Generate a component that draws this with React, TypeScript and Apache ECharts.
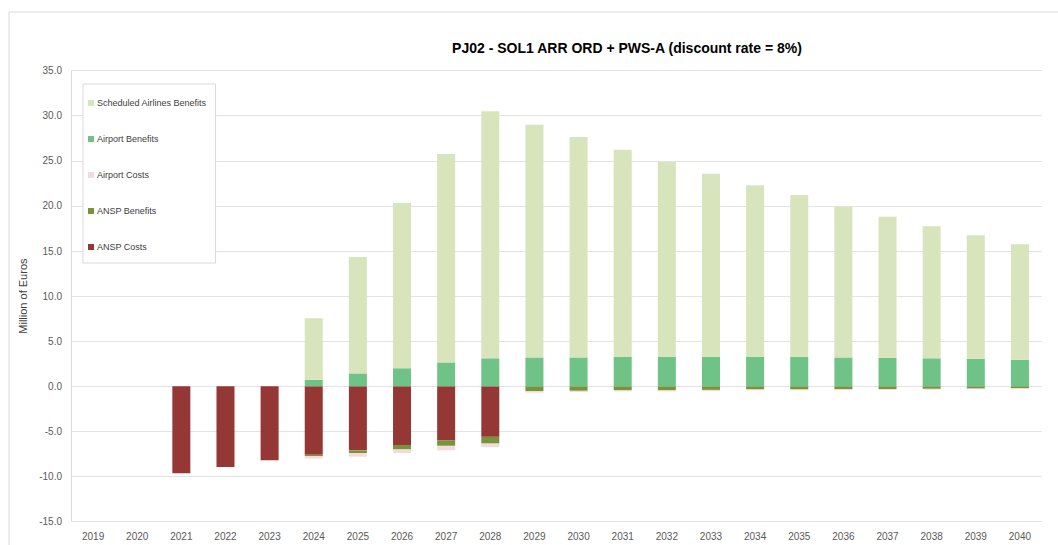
import React, { useEffect, useRef } from "react";
import * as echarts from "echarts";

const years = ["2019","2020","2021","2022","2023","2024","2025","2026","2027","2028","2029","2030","2031","2032","2033","2034","2035","2036","2037","2038","2039","2040"];

const ansPCosts = [0, 0, -9.65, -8.95, -8.2, -7.6, -7.1, -6.5, -6.0, -5.6, 0, 0, 0, 0, 0, 0, 0, 0, 0, 0, 0, 0];
const ansPBenefits = [0, 0, 0, 0, 0, -0.15, -0.3, -0.5, -0.6, -0.75, -0.55, -0.5, -0.45, -0.45, -0.4, -0.35, -0.35, -0.33, -0.3, -0.28, -0.25, -0.22];
const airportCosts = [0, 0, 0, 0, 0, -0.25, -0.4, -0.4, -0.5, -0.4, -0.15, -0.15, -0.12, -0.12, -0.12, -0.1, -0.1, -0.1, -0.1, -0.1, -0.1, -0.1];
const airportBenefits = [0, 0, 0, 0, 0, 0.72, 1.43, 2.0, 2.65, 3.1, 3.2, 3.2, 3.25, 3.25, 3.25, 3.25, 3.25, 3.2, 3.17, 3.1, 3.05, 2.95];
const schedAirlinesBenefits = [0, 0, 0, 0, 0, 6.82, 12.9, 18.32, 23.1, 27.39, 25.8, 24.44, 22.98, 21.62, 20.32, 19.03, 17.95, 16.7, 15.63, 14.64, 13.69, 12.79];

const yTicks = { min: -15, max: 35, interval: 5 };
const titleText = "PJ02 - SOL1 ARR ORD + PWS-A (discount rate = 8%)";
const yAxisName = "Million of Euros";
const legendOrder = ["Scheduled Airlines Benefits", "Airport Benefits", "Airport Costs", "ANSP Benefits", "ANSP Costs"];

export default function App() {
  const ref = useRef<HTMLDivElement>(null);
  useEffect(() => {
    if (!ref.current) return;
    const chart = echarts.init(ref.current, undefined, { renderer: "svg" });
    const font = "'Liberation Sans Narrow', 'Liberation Sans', Arial, sans-serif";
    const mk = (name: string, data: number[], color: string) => ({
      name,
      type: "bar",
      stack: "total",
      data,
      barWidth: 18,
      itemStyle: { color },
      emphasis: { disabled: true },
    });
    chart.setOption({
      animation: false,
      backgroundColor: "#ffffff",
      textStyle: { fontFamily: font },
      title: {
        text: titleText,
        left: 622,
        textAlign: "center",
        top: 36,
        textStyle: { fontSize: 14, fontWeight: "bold", color: "#000000", fontFamily: font },
      },
      graphic: [
        {
          type: "rect",
          shape: { x: 9, y: 12, width: 1100, height: 600 },
          style: { fill: "none", stroke: "#d9d9d9", lineWidth: 1 },
          silent: true,
          z: -10,
        },
      ],
      legend: {
        orient: "vertical",
        left: 83,
        top: 84,
        data: legendOrder,
        itemWidth: 6,
        itemHeight: 6,
        itemGap: 26,
        padding: [14, 9, 11, 5],
        borderColor: "#d9d9d9",
        borderWidth: 1,
        backgroundColor: "#ffffff",
        icon: "rect",
        textStyle: { fontSize: 9, color: "#404040", fontFamily: font, lineHeight: 10, padding: [0, 0, 0, -2] },
      },
      grid: { left: 71, right: 16, top: 70.6, bottom: 23.4, containLabel: false },
      xAxis: {
        type: "category",
        data: years,
        axisLine: { show: false },
        axisTick: { show: false },
        axisLabel: { fontSize: 10, color: "#595959", margin: 10, fontFamily: font },
      },
      yAxis: {
        type: "value",
        min: yTicks.min,
        max: yTicks.max,
        interval: yTicks.interval,
        name: yAxisName,
        nameLocation: "middle",
        nameGap: 34,
        nameTextStyle: { fontSize: 11, color: "#404040", fontFamily: font },
        axisLine: { show: true, lineStyle: { color: "#d9d9d9" } },
        axisTick: { show: false },
        splitLine: { lineStyle: { color: "#e3e3e3", width: 1 } },
        axisLabel: {
          fontSize: 10,
          color: "#595959",
          margin: 9,
          fontFamily: font,
          formatter: (v: number) => v.toFixed(1),
        },
      },
      series: [
        mk("ANSP Costs", ansPCosts, "#953735"),
        mk("ANSP Benefits", ansPBenefits, "#77933c"),
        mk("Airport Costs", airportCosts, "#f2dcdb"),
        mk("Airport Benefits", airportBenefits, "#6fc386"),
        mk("Scheduled Airlines Benefits", schedAirlinesBenefits, "#d8e4bc"),
      ],
    });
    return () => chart.dispose();
  }, []);
  return (
    <div
      ref={ref}
      style={{ position: "absolute", left: 0, top: 0, width: 1058, height: 545 }}
    />
  );
}
